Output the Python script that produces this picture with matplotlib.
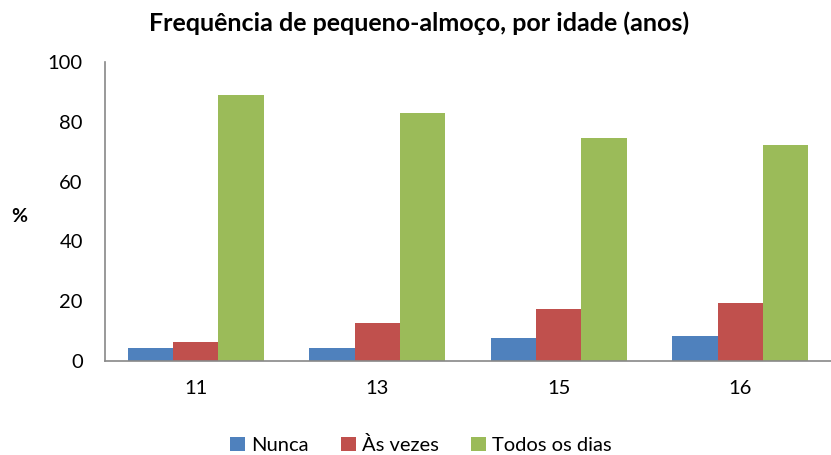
import matplotlib
matplotlib.use("Agg")
import matplotlib.pyplot as plt
import numpy as np

plt.rcParams["font.family"] = ["Lato", "DejaVu Sans"]

AGES = ["11", "13", "15", "16"]
NUNCA = [4.4, 4.2, 7.7, 8.2]
AS_VEZES = [6.4, 12.6, 17.3, 19.3]
TODOS = [89.0, 82.9, 74.5, 72.2]
SERIES = ["Nunca", "Às vezes", "Todos os dias"]
COLORS = ["#4f81bd", "#c0504d", "#9bbb59"]

fig = plt.figure(figsize=(8.31, 4.55), dpi=100)
ax = fig.add_axes([105 / 831, 94 / 455, 726 / 831, 299 / 455])

x = np.arange(len(AGES))
w = 0.25
for i, (vals, name, c) in enumerate(zip([NUNCA, AS_VEZES, TODOS], SERIES, COLORS)):
    ax.bar(x + (i - 1) * w, vals, width=w, color=c, label=name)

ax.set_xlim(-0.5, len(AGES) - 0.5)
ax.set_ylim(0, 100)
ax.set_yticks(range(0, 101, 20))
ax.set_xticks(x)
ax.set_xticklabels(AGES)
ax.tick_params(axis="both", length=0, labelsize=14.5, colors="black")
ax.tick_params(axis="y", pad=16)
ax.tick_params(axis="x", pad=14)
for s in ["top", "right"]:
    ax.spines[s].set_visible(False)
for s in ["left", "bottom"]:
    ax.spines[s].set_color("#888888")
    ax.spines[s].set_linewidth(1.2)

fig.text(19 / 831, 1 - 216 / 455, "%", fontsize=14, fontweight="bold",
         ha="center", va="center")
fig.text(419 / 831, 1 - 23 / 455, "Frequência de pequeno-almoço, por idade (anos)",
         fontsize=18, fontweight="bold", ha="center", va="center")

fig.legend(loc="center", bbox_to_anchor=(421 / 831, 1 - 445 / 455), ncol=3,
           frameon=False, fontsize=14.5, handlelength=0.75, handleheight=0.75,
           handletextpad=0.3, columnspacing=1.6)

fig.savefig("out.png", dpi=100)
